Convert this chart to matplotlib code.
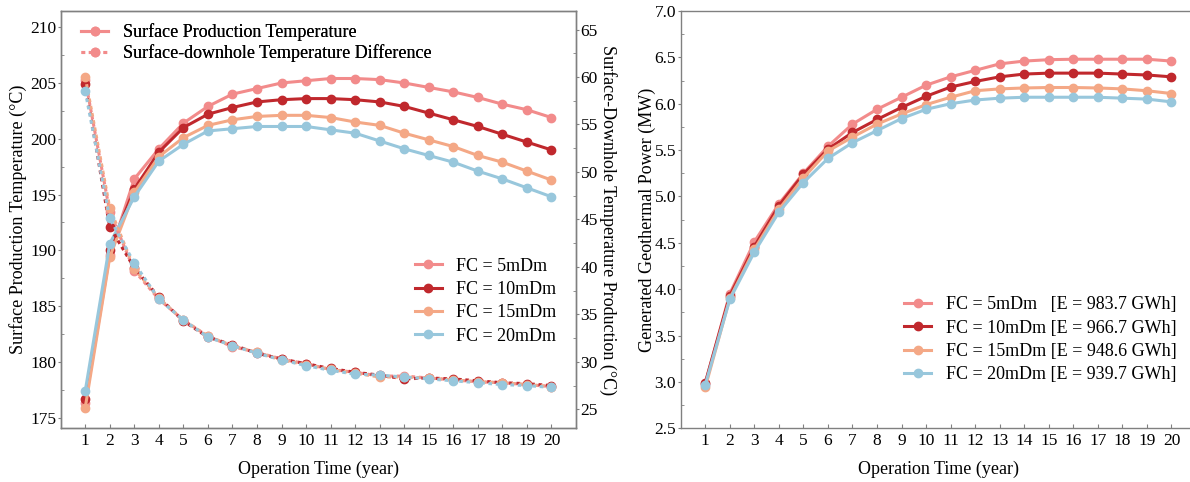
import matplotlib

matplotlib.use("Agg")
import matplotlib.pyplot as plt
from matplotlib.ticker import MultipleLocator, FormatStrFormatter

plt.rcParams["font.family"] = ["Liberation Serif", "DejaVu Serif"]

years = list(range(1, 21))
fc_labels = ["FC = 5mDm", "FC = 10mDm", "FC = 15mDm", "FC = 20mDm"]
energy_labels = ["FC = 5mDm   [E = 983.7 GWh]", "FC = 10mDm [E = 966.7 GWh]",
                 "FC = 15mDm [E = 948.6 GWh]", "FC = 20mDm [E = 939.7 GWh]"]
colors = ["#f28b8b", "#c0282d", "#f4a886", "#98c7dc"]

# surface production temperature (left axis, degC)
temp_5 = [176.3, 189.6, 196.4, 199.1, 201.4, 202.9, 204.0, 204.5, 205.0, 205.2,
          205.4, 205.4, 205.3, 205.0, 204.6, 204.2, 203.7, 203.1, 202.6, 201.9]
temp_10 = [176.7, 190.0, 195.5, 198.8, 201.0, 202.2, 202.8, 203.3, 203.5, 203.6,
           203.6, 203.5, 203.3, 202.9, 202.3, 201.7, 201.1, 200.4, 199.7, 199.0]
temp_15 = [175.9, 189.4, 195.2, 198.4, 200.1, 201.2, 201.7, 202.0, 202.1, 202.1,
           201.9, 201.5, 201.2, 200.5, 199.9, 199.3, 198.5, 197.9, 197.1, 196.3]
temp_20 = [177.4, 190.6, 194.8, 198.0, 199.5, 200.7, 200.9, 201.1, 201.1, 201.1,
           200.8, 200.5, 199.8, 199.1, 198.5, 197.9, 197.1, 196.4, 195.6, 194.8]

# surface-downhole temperature difference (right axis, degC)
diff_5 = [59.7, 45.8, 39.6, 36.6, 34.4, 32.7, 31.6, 31.0, 30.3, 29.8,
          29.2, 28.9, 28.5, 28.5, 28.3, 28.1, 27.9, 27.8, 27.6, 27.4]
diff_10 = [59.3, 44.2, 39.9, 36.8, 34.3, 32.6, 31.8, 30.9, 30.3, 29.8,
           29.3, 28.9, 28.6, 28.2, 28.3, 28.2, 28.0, 27.8, 27.7, 27.5]
diff_15 = [60.0, 46.2, 39.8, 36.7, 34.4, 32.7, 31.7, 31.0, 30.2, 29.7,
           29.2, 28.8, 28.4, 28.4, 28.3, 28.1, 27.9, 27.8, 27.6, 27.4]
diff_20 = [58.5, 45.1, 40.4, 36.6, 34.4, 32.6, 31.7, 30.9, 30.2, 29.6,
           29.1, 28.7, 28.6, 28.4, 28.2, 28.0, 27.8, 27.6, 27.5, 27.3]

# generated geothermal power (MW)
power_5 = [2.98, 3.95, 4.51, 4.92, 5.25, 5.54, 5.78, 5.94, 6.07, 6.20,
           6.29, 6.36, 6.43, 6.46, 6.475, 6.48, 6.48, 6.48, 6.48, 6.46]
power_10 = [2.99, 3.93, 4.46, 4.90, 5.24, 5.51, 5.69, 5.83, 5.96, 6.08,
            6.18, 6.24, 6.29, 6.32, 6.33, 6.33, 6.33, 6.32, 6.31, 6.29]
power_15 = [2.94, 3.90, 4.43, 4.86, 5.20, 5.49, 5.64, 5.78, 5.89, 5.99,
            6.07, 6.14, 6.16, 6.17, 6.175, 6.175, 6.17, 6.16, 6.14, 6.11]
power_20 = [2.97, 3.89, 4.40, 4.83, 5.15, 5.41, 5.58, 5.71, 5.84, 5.94,
            6.00, 6.04, 6.06, 6.07, 6.07, 6.07, 6.07, 6.06, 6.05, 6.02]

temps = [temp_5, temp_10, temp_15, temp_20]
diffs = [diff_5, diff_10, diff_15, diff_20]
powers = [power_5, power_10, power_15, power_20]

FS_TICK = 12.5
FS = 13
SPINE = "#808080"
LW, MS = 2.2, 6
DOT = (0, (1.2, 1.2))
LEG = dict(frameon=False, fontsize=FS, handlelength=1.5, handletextpad=0.8,
           borderaxespad=0, borderpad=0)


def style_axis(ax):
    for sp in ax.spines.values():
        sp.set_color(SPINE)
        sp.set_linewidth(1.0)
    ax.tick_params(axis="both", which="both", colors=SPINE, labelcolor="black", labelsize=FS_TICK)
    ax.tick_params(axis="x", which="major", direction="in", length=3)
    ax.tick_params(axis="y", which="major", direction="out", length=2.5, pad=0.8)
    ax.tick_params(axis="y", which="minor", direction="in", length=2.5)


fig = plt.figure(figsize=(11.9, 4.82), dpi=100)
W, H = 1190, 482
box_l = [60.7 / W, 1 - 428.3 / H, 515.3 / W, 417.3 / H]
box_r = [680.7 / W, 1 - 428.3 / H, 515.3 / W, 417.3 / H]

# ---- left panel: temperature + temperature difference
ax1 = fig.add_axes(box_l)
ax2 = ax1.twinx()
for t, c in zip(temps, colors):
    ax1.plot(years, t, color=c, lw=LW, marker="o", ms=MS, zorder=3)
for d, c in zip(diffs, colors):
    ax2.plot(years, d, color=c, lw=LW, ls=DOT, marker="o", ms=MS, zorder=3)

ax1.set_xlim(0, 21)
ax1.set_ylim(174.05, 211.45)
ax2.set_ylim(23.0, 66.95)
ax1.set_xticks(years)
for ax in (ax1, ax2):
    ax.yaxis.set_major_locator(MultipleLocator(5))
    ax.yaxis.set_minor_locator(MultipleLocator(2.5))
    style_axis(ax)
ax1.set_xlabel("Operation Time (year)", fontsize=FS, labelpad=8)
ax1.set_ylabel("Surface Production Temperature (\u00b0C)", fontsize=FS, labelpad=2)
ax2.set_ylabel("Surface-Downhole Temperature Production (\u00b0C)", fontsize=FS,
               rotation=270, labelpad=13.5)

h_solid, = ax1.plot([], [], color=colors[0], lw=LW, marker="o", ms=MS)
h_dot, = ax1.plot([], [], color=colors[0], lw=LW, ls=DOT, marker="o", ms=MS)
leg_top = ax1.legend([h_solid, h_dot],
                     ["Surface Production Temperature", "Surface-downhole Temperature Difference"],
                     loc="upper left", bbox_to_anchor=(0.04, 0.970), labelspacing=0.17, **LEG)
ax1.add_artist(leg_top)
fc_handles = [ax1.plot([], [], color=c, lw=LW, marker="o", ms=MS)[0] for c in colors]
ax2.legend(fc_handles, fc_labels, loc="upper right", bbox_to_anchor=(0.962, 0.409),
           labelspacing=0.35, **LEG)

# ---- right panel: generated power
ax3 = fig.add_axes(box_r)
for p, c, lab in zip(powers, colors, energy_labels):
    ax3.plot(years, p, color=c, lw=LW, marker="o", ms=MS, label=lab, zorder=3)
ax3.set_xlim(0, 21)
ax3.set_ylim(2.5, 7.0)
ax3.set_xticks(years)
ax3.yaxis.set_major_locator(MultipleLocator(0.5))
ax3.yaxis.set_minor_locator(MultipleLocator(0.25))
ax3.yaxis.set_major_formatter(FormatStrFormatter("%.1f"))
style_axis(ax3)
ax3.set_xlabel("Operation Time (year)", fontsize=FS, labelpad=8)
ax3.set_ylabel("Generated Geothermal Power (MW)", fontsize=FS, labelpad=-1)
ax3.legend(loc="upper right", bbox_to_anchor=(0.962, 0.316), labelspacing=0.345, **LEG)

fig.savefig("out.png", dpi=100)
